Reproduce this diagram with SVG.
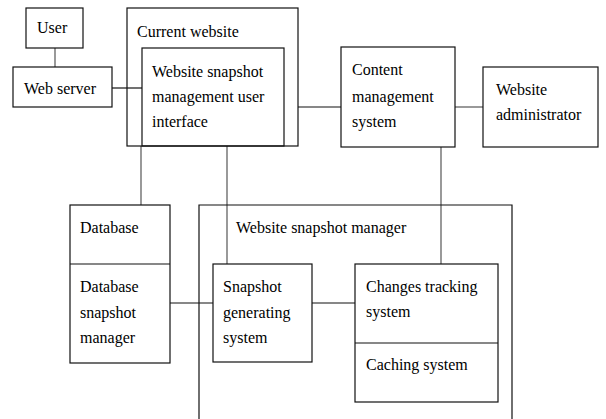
<svg xmlns="http://www.w3.org/2000/svg" width="606" height="419" viewBox="0 0 606 419">
<style>
.box{fill:none;stroke:#111;stroke-width:1.2}
.c{stroke:#111;stroke-width:1.2;fill:none}
.g{stroke:#808080;stroke-width:1.6;fill:none}
</style>
<rect width="606" height="419" fill="#fff"/>
<g id="connectors">
<line class="g" x1="55" y1="48" x2="55" y2="67"/>
<line class="c" x1="112" y1="88" x2="142" y2="88"/>
<line class="c" x1="298" y1="107" x2="341" y2="107"/>
<line class="g" x1="455" y1="107" x2="483" y2="107"/>
<line class="g" x1="141" y1="146" x2="141" y2="205"/>
<line class="g" x1="227" y1="146" x2="227" y2="264"/>
<line class="g" x1="441" y1="147" x2="441" y2="264"/>
<line class="c" x1="170" y1="303" x2="213" y2="303"/>
<line class="c" x1="312" y1="303" x2="355" y2="303"/>
</g>
<g font-family="Liberation Serif, Times New Roman, DejaVu Serif, serif" font-size="16" fill="#000">
<g id="user">
<rect class="box" x="26" y="8" width="57" height="40"/>
<text x="37" y="33">User</text>
</g>
<g id="web-server">
<rect class="box" x="13" y="67" width="99" height="40"/>
<text x="24" y="94">Web server</text>
</g>
<g id="current-website">
<rect class="box" x="127" y="8" width="171" height="138"/>
<text x="137" y="37">Current website</text>
</g>
<g id="snapshot-ui">
<rect class="box" x="142" y="48" width="142" height="98"/>
<text x="152" y="77">Website snapshot</text>
<text x="152" y="102">management user</text>
<text x="152" y="127">interface</text>
</g>
<g id="cms">
<rect class="box" x="341" y="47" width="114" height="100"/>
<text x="352" y="75">Content</text>
<text x="352" y="102">management</text>
<text x="352" y="127">system</text>
</g>
<g id="admin">
<rect class="box" x="483" y="67" width="115" height="80"/>
<text x="496" y="95">Website</text>
<text x="496" y="120">administrator</text>
</g>
<g id="database">
<rect class="box" x="70" y="205" width="100" height="158"/>
<text x="80" y="233">Database</text>
<line class="c" x1="70" y1="264" x2="170" y2="264"/>
<text x="80" y="292">Database</text>
<text x="80" y="318">snapshot</text>
<text x="80" y="343">manager</text>
</g>
<g id="snapshot-manager">
<path class="box" d="M199,425 V205 H512 V425"/>
<text x="236" y="233">Website snapshot manager</text>
</g>
<g id="snapshot-generating">
<rect class="box" x="213" y="264" width="99" height="98"/>
<text x="223" y="292">Snapshot</text>
<text x="223" y="318">generating</text>
<text x="223" y="343">system</text>
</g>
<g id="changes-tracking">
<rect class="box" x="355" y="264" width="143" height="138"/>
<text x="366" y="292">Changes tracking</text>
<text x="366" y="317">system</text>
<line class="c" x1="355" y1="343" x2="498" y2="343"/>
<text x="366" y="370">Caching system</text>
</g>
</g>
</svg>
